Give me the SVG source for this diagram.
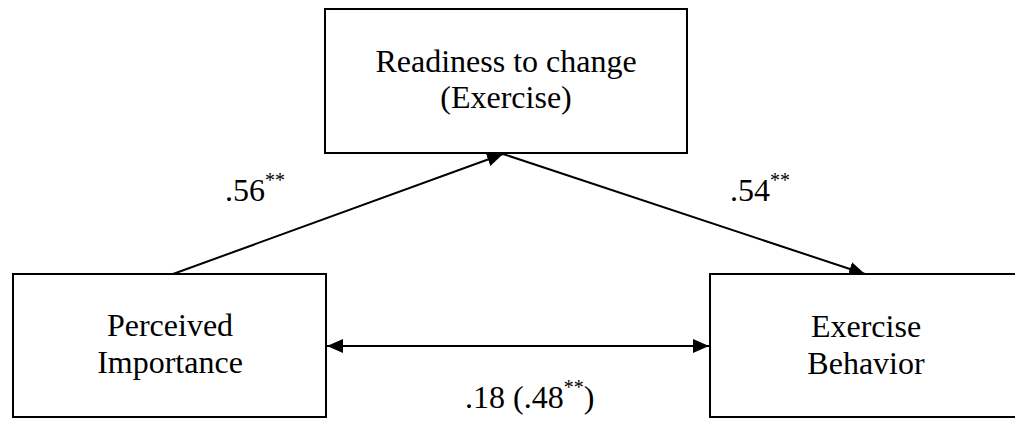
<svg xmlns="http://www.w3.org/2000/svg" width="1015" height="422" viewBox="0 0 1015 422">
<style>
.box{fill:#fff;stroke:#000;stroke-width:2}
.t{font-family:"Liberation Serif","Times New Roman",serif;font-size:32px;fill:#000}
.c{text-anchor:middle}
.sup{font-size:20px}
.ln{stroke:#000;stroke-width:2;fill:none}
</style>
<defs>
<marker id="ah" viewBox="0 0 16 14" refX="16" refY="7" markerWidth="16" markerHeight="14" markerUnits="userSpaceOnUse" orient="auto-start-reverse">
<path d="M0,0 L16,7 L0,14 Z" fill="#000"/>
</marker>
</defs>
<rect width="1015" height="422" fill="#fff"/>
<g id="connectors">
<line class="ln" x1="173" y1="274" x2="503" y2="154" marker-end="url(#ah)"/>
<line class="ln" x1="503" y1="154" x2="865" y2="274" marker-end="url(#ah)"/>
<line class="ln" x1="327" y1="346" x2="709" y2="346" marker-start="url(#ah)" marker-end="url(#ah)"/>
</g>
<g id="readiness">
<rect class="box" x="325" y="9" width="362" height="144"/>
<text class="t c" x="506" y="72">Readiness to change</text>
<text class="t c" x="506" y="108">(Exercise)</text>
</g>
<g id="perceived">
<rect class="box" x="13" y="274" width="313" height="143"/>
<text class="t c" x="170" y="336">Perceived</text>
<text class="t c" x="170" y="373">Importance</text>
</g>
<g id="behavior">
<rect class="box" x="710" y="274" width="320" height="143"/>
<text class="t c" x="866" y="337">Exercise</text>
<text class="t c" x="866" y="374">Behavior</text>
</g>
<g id="labels">
<text class="t" x="225" y="201">.56<tspan class="sup" dy="-14">**</tspan></text>
<text class="t" x="730" y="201">.54<tspan class="sup" dy="-14">**</tspan></text>
<text class="t" x="465" y="408">.18 (.48<tspan class="sup" dy="-14">**</tspan><tspan dy="14">)</tspan></text>
</g>
</svg>
